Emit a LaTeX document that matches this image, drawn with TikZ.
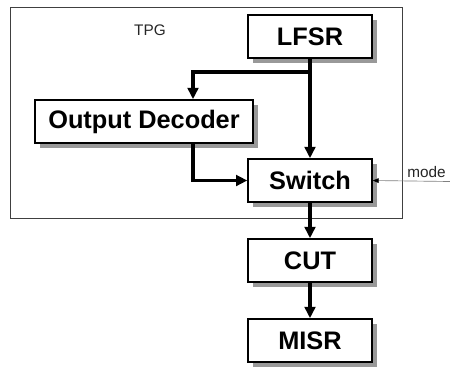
\documentclass[tikz,border=0pt]{standalone}
\usepackage{fontspec}
\setmainfont{Liberation Sans}
\usetikzlibrary{arrows.meta,shadows}
\begin{document}
\begin{tikzpicture}[x=0.75pt,y=-0.75pt,
  blk/.style={draw, line width=1.5pt, fill=white, inner sep=0pt,
    minimum height=32pt,
    font=\fontsize{19}{22}\selectfont\bfseries,
    drop shadow={shadow xshift=3.75pt, shadow yshift=-3.75pt, fill=black!40, opacity=1}},
  arr/.style={line width=2.4pt, -{Triangle[length=8.5pt,width=8pt]}},
  thinlbl/.style={font=\fontsize{11.5}{13}\selectfont, text=black!85, inner sep=0pt}]
\useasboundingbox (0,0) rectangle (450,369);
\node (tpg) [draw=black!75, line width=0.6pt, minimum width=294pt, minimum height=158.25pt, inner sep=0pt] at (206,112.5) {};
\node (tpglbl) [thinlbl] at (150,30) {TPG};
\node (lfsr) [blk, minimum width=92.5pt] at (310,36.5) {LFSR};
\node (od) [blk, minimum width=163.5pt] at (144,121.5) {Output Decoder};
\node (sw) [blk, minimum width=92.5pt] at (310,180.5) {Switch};
\node (cut) [blk, minimum width=92.5pt] at (310,260.5) {CUT};
\node (misr) [blk, minimum width=92.5pt] at (310,340.5) {MISR};
\node (mode) [thinlbl, anchor=west] at (407,172) {mode};
\coordinate (br) at (310,72);
\coordinate (dx) at (193,0);
\coordinate (mend) at (450,181.5);
\draw[arr] (lfsr.south) -- (sw.north);
\draw[arr] (br) -| (od.north -| dx);
\draw[arr] (od.south -| dx) |- (sw.west);
\draw[arr] (sw.south) -- (cut.north);
\draw[arr] (cut.south) -- (misr.north);
\draw[black!50, line width=0.5pt, -{Triangle[length=4.5pt,width=3.5pt,color=black]}] (mend) -- (sw.east);
\end{tikzpicture}
\end{document}
